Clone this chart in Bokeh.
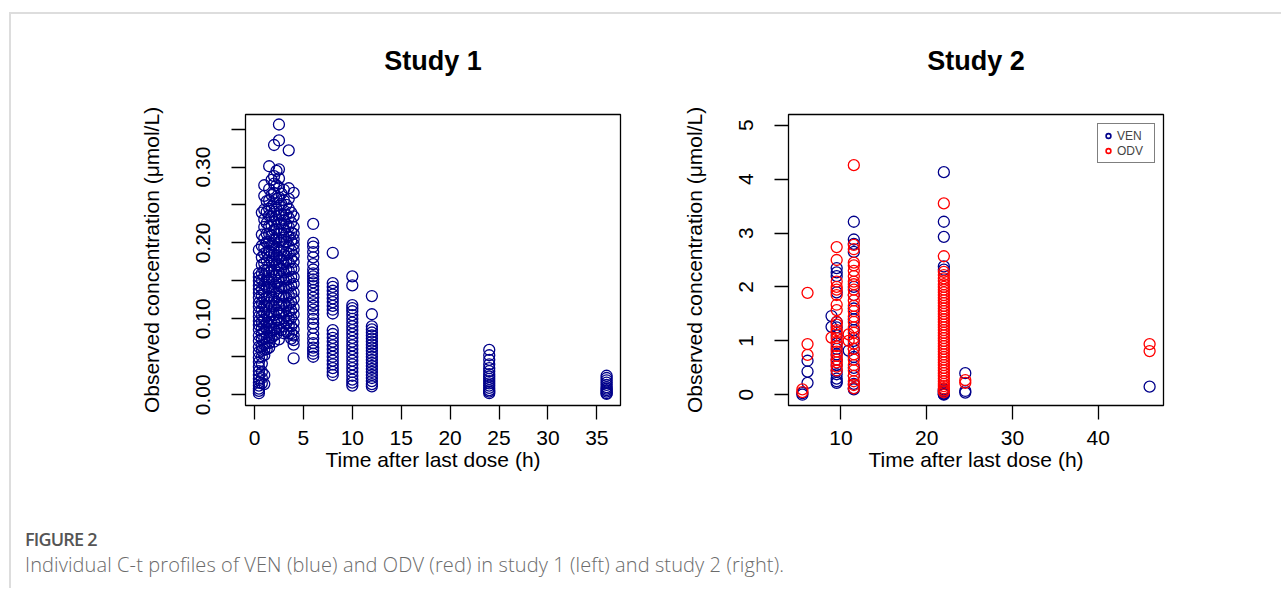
from bokeh.plotting import figure
from bokeh.layouts import row, column
from bokeh.models import Range1d, FixedTicker, Div, Legend, LegendItem, Title
from bokeh.embed import file_html
from bokeh.resources import INLINE

# ---------------- Study 1 (VEN only) ----------------
s1_times = [0.45, 0.75, 1.0, 1.25, 1.5, 1.75, 2.0, 2.25, 2.5, 2.75, 3.0, 3.25,
            3.5, 3.75, 4.0, 6.0, 8.0, 10.0, 12.0, 24.0, 36.0]
s1_c_0h45 = [0.191, 0.160, 0.155, 0.150, 0.144, 0.139, 0.134, 0.128, 0.121, 0.116, 0.109, 0.103,
             0.097, 0.092, 0.086, 0.078, 0.071, 0.063, 0.056, 0.049, 0.043, 0.037, 0.031, 0.026,
             0.021, 0.016, 0.012, 0.008, 0.005, 0.002]
s1_c_0h75 = [0.240, 0.211, 0.196, 0.181, 0.171, 0.160, 0.151, 0.139, 0.131, 0.121, 0.112, 0.104,
             0.096, 0.087, 0.080, 0.073, 0.064, 0.058, 0.050, 0.041, 0.030, 0.022, 0.015]
s1_c_1h00 = [0.276, 0.262, 0.244, 0.231, 0.221, 0.206, 0.194, 0.186, 0.173, 0.164, 0.156, 0.145,
             0.136, 0.126, 0.117, 0.108, 0.099, 0.090, 0.083, 0.074, 0.066, 0.059, 0.052, 0.026, 0.014]
s1_c_1h25 = [0.255, 0.241, 0.226, 0.212, 0.201, 0.188, 0.177, 0.164, 0.152, 0.141, 0.128, 0.116,
             0.105, 0.095, 0.086, 0.076, 0.068, 0.060]
s1_c_1h50 = [0.301, 0.271, 0.256, 0.245, 0.236, 0.222, 0.212, 0.201, 0.190, 0.181, 0.170, 0.161,
             0.150, 0.141, 0.130, 0.121, 0.110, 0.101, 0.091, 0.083, 0.075, 0.068, 0.062]
s1_c_1h75 = [0.283, 0.263, 0.248, 0.235, 0.223, 0.210, 0.198, 0.187, 0.175, 0.163, 0.152, 0.141,
             0.128, 0.117, 0.106, 0.095, 0.085, 0.075]
s1_c_2h00 = [0.329, 0.288, 0.278, 0.266, 0.252, 0.241, 0.228, 0.217, 0.205, 0.196, 0.185, 0.176,
             0.165, 0.156, 0.145, 0.136, 0.125, 0.116, 0.105, 0.096, 0.086, 0.078, 0.070]
s1_c_2h25 = [0.295, 0.276, 0.258, 0.244, 0.231, 0.218, 0.206, 0.194, 0.183, 0.171, 0.158, 0.147,
             0.134, 0.122, 0.111, 0.099, 0.088, 0.080]
s1_c_2h50 = [0.356, 0.335, 0.297, 0.285, 0.273, 0.260, 0.249, 0.236, 0.225, 0.212, 0.201, 0.190,
             0.181, 0.170, 0.161, 0.150, 0.140, 0.129, 0.118, 0.108, 0.098, 0.088, 0.073]
s1_c_2h75 = [0.265, 0.251, 0.238, 0.226, 0.214, 0.203, 0.190, 0.178, 0.166, 0.155, 0.142, 0.131,
             0.118, 0.107, 0.095, 0.085]
s1_c_3h00 = [0.270, 0.256, 0.243, 0.230, 0.218, 0.207, 0.195, 0.184, 0.172, 0.161, 0.150, 0.140,
             0.130, 0.120, 0.110, 0.101, 0.090, 0.081]
s1_c_3h25 = [0.250, 0.237, 0.224, 0.212, 0.201, 0.188, 0.176, 0.165, 0.152, 0.141, 0.128, 0.116,
             0.104, 0.094, 0.084]
s1_c_3h50 = [0.322, 0.272, 0.258, 0.245, 0.233, 0.221, 0.208, 0.196, 0.186, 0.174, 0.163, 0.152,
             0.141, 0.131, 0.120, 0.110, 0.100, 0.091, 0.081]
s1_c_3h75 = [0.240, 0.227, 0.214, 0.203, 0.190, 0.179, 0.166, 0.155, 0.144, 0.133, 0.122, 0.111,
             0.101, 0.090, 0.081, 0.074]
s1_c_4h00 = [0.266, 0.235, 0.221, 0.212, 0.205, 0.198, 0.191, 0.183, 0.175, 0.166, 0.155, 0.146,
             0.135, 0.126, 0.115, 0.106, 0.095, 0.086, 0.078, 0.072, 0.066, 0.048]
s1_c_6h = [0.225, 0.200, 0.195, 0.188, 0.181, 0.172, 0.165, 0.160, 0.156, 0.152, 0.148, 0.143,
           0.138, 0.133, 0.128, 0.122, 0.117, 0.112, 0.106, 0.100, 0.094, 0.088, 0.080, 0.074,
           0.068, 0.062, 0.058, 0.054, 0.050]
s1_c_8h = [0.187, 0.147, 0.142, 0.137, 0.132, 0.127, 0.122, 0.117, 0.112, 0.107, 0.085, 0.080,
           0.075, 0.070, 0.065, 0.060, 0.055, 0.050, 0.045, 0.040, 0.035, 0.030, 0.026]
s1_c_10h = [0.156, 0.144, 0.118, 0.114, 0.110, 0.105, 0.100, 0.095, 0.090, 0.085, 0.080, 0.075,
            0.070, 0.065, 0.060, 0.055, 0.050, 0.045, 0.040, 0.035, 0.030, 0.025, 0.020, 0.016, 0.012]
s1_c_12h = [0.130, 0.106, 0.090, 0.086, 0.082, 0.078, 0.074, 0.070, 0.066, 0.062, 0.058, 0.054,
            0.050, 0.046, 0.042, 0.038, 0.034, 0.030, 0.026, 0.022, 0.018, 0.014, 0.011]
s1_c_24h = [0.059, 0.052, 0.046, 0.040, 0.035, 0.031, 0.027, 0.024, 0.021, 0.018, 0.015, 0.012,
            0.009, 0.006, 0.004, 0.002]
s1_c_36h = [0.025, 0.022, 0.019, 0.016, 0.013, 0.010, 0.008, 0.006, 0.004, 0.002, 0.001]
s1_conc_groups = [s1_c_0h45, s1_c_0h75, s1_c_1h00, s1_c_1h25, s1_c_1h50, s1_c_1h75, s1_c_2h00,
                  s1_c_2h25, s1_c_2h50, s1_c_2h75, s1_c_3h00, s1_c_3h25, s1_c_3h50, s1_c_3h75,
                  s1_c_4h00, s1_c_6h, s1_c_8h, s1_c_10h, s1_c_12h, s1_c_24h, s1_c_36h]

# ---------------- Study 2 (VEN and ODV) ----------------
s2_ven_times = [5.5, 6.1, 8.9, 9.5, 10.9, 11.5, 22.0, 24.5, 46.0]
s2_ven_conc = [
    [0.0, 0.03],
    [0.63, 0.43, 0.22],
    [1.46, 1.26],
    [2.35, 2.27, 2.20, 1.90, 1.35, 1.25, 1.10, 0.95, 0.85, 0.75, 0.65, 0.55, 0.45, 0.38, 0.30, 0.25, 0.22],
    [0.82],
    [3.21, 2.88, 2.80, 2.65, 2.00, 1.85, 1.60, 1.40, 1.20, 1.00, 0.85, 0.70, 0.50, 0.35, 0.20, 0.12, 0.10],
    [4.13, 3.21, 2.93, 2.38, 2.32, 0.10, 0.08, 0.06, 0.04, 0.02, 0.01, 0.0],
    [0.40, 0.07, 0.04],
    [0.15],
]
s2_odv_times = [5.5, 6.1, 8.9, 9.5, 10.9, 11.5, 22.0, 24.5, 46.0]
s2_odv_conc = [
    [0.05, 0.10],
    [1.89, 0.94, 0.74],
    [1.06],
    [2.74, 2.50, 2.10, 2.00, 1.95, 1.85, 1.67, 1.57, 1.35, 1.30, 1.20, 1.15, 1.05, 0.98, 0.90, 0.80,
     0.72, 0.65, 0.60, 0.52, 0.45],
    [1.12, 1.00],
    [4.26, 2.78, 2.70, 2.45, 2.40, 2.30, 2.20, 2.10, 2.05, 1.95, 1.85, 1.75, 1.65, 1.55, 1.45, 1.35,
     1.25, 1.15, 1.05, 0.95, 0.85, 0.75, 0.65, 0.55, 0.45, 0.35, 0.25, 0.18, 0.12],
    [3.55, 2.57, 2.28, 2.22, 2.16, 2.11, 2.05, 2.00, 1.95, 1.90, 1.85, 1.80, 1.75, 1.70, 1.65, 1.60,
     1.55, 1.50, 1.45, 1.40, 1.35, 1.30, 1.25, 1.20, 1.15, 1.10, 1.05, 1.00, 0.95, 0.90, 0.85, 0.80,
     0.75, 0.70, 0.65, 0.60, 0.55, 0.50, 0.45, 0.40, 0.35, 0.30, 0.25, 0.20, 0.16, 0.12, 0.08, 0.05],
    [0.27, 0.22],
    [0.94, 0.81],
]

s1_x_ticks = [0, 5, 10, 15, 20, 25, 30, 35]
s1_y_ticks = [0.0, 0.05, 0.1, 0.15, 0.2, 0.25, 0.3, 0.35]
s1_y_labels = ["0.00", "", "0.10", "", "0.20", "", "0.30", ""]
s2_x_ticks = [10, 20, 30, 40]
s2_y_ticks = [0, 1, 2, 3, 4, 5]
legend_labels = ["VEN", "ODV"]

BLUE = "#00008B"
RED = "#FF0000"
FONT = "Liberation Sans"


def flatten(times, groups):
    xs, ys = [], []
    for t, g in zip(times, groups):
        for v in g:
            xs.append(t)
            ys.append(v)
    return xs, ys


def make_fig(title, xr, yr, left, right):
    p = figure(frame_width=375, frame_height=291, x_range=xr, y_range=yr,
               min_border_left=left, min_border_right=right, min_border_top=100,
               min_border_bottom=95, output_backend="svg", toolbar_location=None,
               tools="")
    # spacer title (closest to frame), then the real title above it
    p.add_layout(Title(text=" ", text_font_size="20px"), "above")
    p.add_layout(Title(text=title, align="center", text_font=FONT, text_font_size="27px",
                       text_font_style="bold", text_color="black"), "above")
    p.grid.visible = False
    p.outline_line_color = "black"
    p.outline_line_width = 1.3
    p.background_fill_color = "white"
    p.border_fill_color = "white"
    for ax in (p.xaxis[0], p.yaxis[0]):
        ax.axis_line_color = None
        ax.major_tick_out = 14
        ax.major_tick_in = 0
        ax.major_tick_line_width = 1.3
        ax.major_tick_line_color = "black"
        ax.minor_tick_line_color = None
        ax.major_label_text_font = FONT
        ax.major_label_text_font_size = "21px"
        ax.major_label_text_color = "black"
        ax.axis_label_text_font = FONT
        ax.axis_label_text_font_size = "21px"
        ax.axis_label_text_font_style = "normal"
        ax.axis_label_text_color = "black"
    p.xaxis.major_label_standoff = 11
    p.xaxis.axis_label_standoff = 0
    p.yaxis.major_label_standoff = 21
    p.yaxis.axis_label_standoff = 31
    p.yaxis.major_label_orientation = "vertical"
    p.xaxis.axis_label = "Time after last dose (h)"
    p.yaxis.axis_label = "Observed concentration (\u03bcmol/L)"
    return p


# Study 1
p1 = make_fig("Study 1", Range1d(-0.92, 37.42), Range1d(-0.0142, 0.3692), 234, 39)
p1.xaxis.ticker = FixedTicker(ticks=s1_x_ticks)
p1.yaxis.ticker = FixedTicker(ticks=s1_y_ticks)
p1.yaxis.major_label_overrides = {t: l for t, l in zip(s1_y_ticks, s1_y_labels)}
x1, y1 = flatten(s1_times, s1_conc_groups)
p1.scatter(x1, y1, marker="circle", size=11, fill_color=None, line_color=BLUE, line_width=1.3)

# Study 2
p2 = make_fig("Study 2", Range1d(3.88, 47.62), Range1d(-0.2, 5.2), 129, 110)
p2.xaxis.ticker = FixedTicker(ticks=s2_x_ticks)
p2.yaxis.ticker = FixedTicker(ticks=s2_y_ticks)
xv, yv = flatten(s2_ven_times, s2_ven_conc)
xo, yo = flatten(s2_odv_times, s2_odv_conc)
p2.scatter(xv, yv, marker="circle", size=11, fill_color=None, line_color=BLUE, line_width=1.3)
p2.scatter(xo, yo, marker="circle", size=11, fill_color=None, line_color=RED, line_width=1.3)
# legend proxies: one point each, far outside the visible range (clipped by the frame)
lv = p2.scatter([-1000], [-1000], marker="circle", size=6, fill_color=None, line_color=BLUE, line_width=1.6)
lo = p2.scatter([-1000], [-1000], marker="circle", size=6, fill_color=None, line_color=RED, line_width=1.6)
legend = Legend(items=[LegendItem(label=legend_labels[0], renderers=[lv]),
                       LegendItem(label=legend_labels[1], renderers=[lo])],
                location=(309, 242), padding=4, spacing=0, margin=0,
                label_height=15, glyph_height=15, glyph_width=12, label_standoff=3,
                label_width=33, label_text_font=FONT, label_text_font_size="12px",
                border_line_color="black", border_line_width=1.2, background_fill_alpha=1.0)
p2.add_layout(legend)

cap = Div(text=(
    "<div style=\"font-family:'Open Sans',sans-serif;padding:24px 0 0 9px;\">"
    "<div style=\"font-size:18px;font-weight:600;color:#555555;line-height:20px;letter-spacing:-0.8px;\">FIGURE 2</div>"
    "<div style=\"font-size:20px;font-weight:300;color:#6b6b6b;line-height:32px;letter-spacing:0.1px;\">Individual C-t profiles of VEN (blue) "
    "and ODV (red) in study 1 (left) and study 2 (right).</div></div>"),
    width=1260, height=78)

layout = column(row(p1, p2), cap, margin=(12, 0, 0, 9),
                styles={"border-top": "2px solid #dddddd", "border-left": "2px solid #dddddd"})

open("out.html", "w").write(file_html(layout, INLINE))
